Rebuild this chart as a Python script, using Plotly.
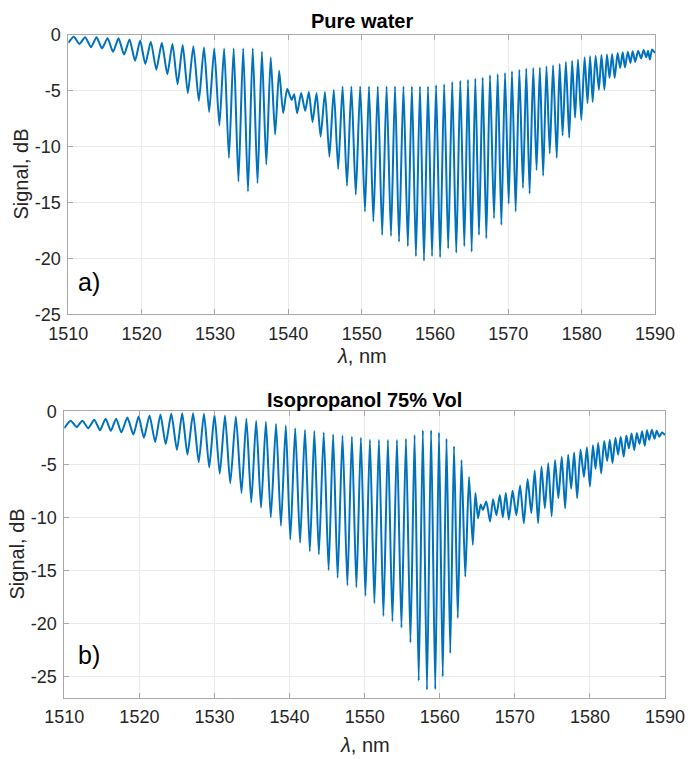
import plotly.graph_objects as go

# ---------------- Panel a) Pure water ----------------
a_peak_nm = [1510.0, 1510.75, 1512.3, 1513.85, 1515.35, 1516.85, 1518.35, 1519.8, 1521.25, 1522.75,
             1524.2, 1525.6, 1527.05, 1528.5, 1529.9, 1531.25, 1532.55, 1533.85, 1535.15, 1536.4,
             1537.6, 1538.75, 1539.85, 1540.8, 1541.75, 1542.8, 1543.85, 1545.0, 1546.2, 1547.4,
             1548.6, 1549.8, 1551.0, 1552.2, 1553.4, 1554.55, 1555.7, 1556.85, 1557.95, 1559.05,
             1560.15, 1561.25, 1562.35, 1563.45, 1564.5, 1565.5, 1566.5, 1567.5, 1568.55, 1569.55,
             1570.5, 1571.5, 1572.45, 1573.4, 1574.3, 1575.2, 1576.1, 1577.0, 1577.85, 1578.7,
             1579.5, 1580.4, 1581.15, 1581.9, 1582.7, 1583.45, 1584.15, 1584.9, 1585.6, 1586.3,
             1586.95, 1587.7, 1588.45, 1589.05, 1589.6, 1590.0]
a_peak_db = [-0.7, -0.15, -0.2, -0.2, -0.3, -0.3, -0.4, -0.5, -0.6, -0.7,
             -0.8, -0.9, -1.0, -1.1, -1.2, -1.2, -1.2, -1.2, -1.2, -1.5,
             -2.0, -3.2, -4.8, -5.3, -5.2, -5.1, -5.2, -5.1, -4.9, -4.6,
             -4.6, -4.6, -4.6, -4.6, -4.6, -4.6, -4.6, -4.6, -4.6, -4.6,
             -4.5, -4.4, -4.2, -4.1, -4.0, -3.9, -3.8, -3.6, -3.5, -3.4,
             -3.25, -3.1, -3.0, -2.95, -2.9, -2.8, -2.7, -2.6, -2.4, -2.3,
             -2.2, -2.0, -1.9, -1.85, -1.8, -1.75, -1.7, -1.6, -1.55, -1.5,
             -1.45, -1.4, -1.35, -1.4, -1.3, -1.6]
a_dip_nm = [1511.5, 1513.1, 1514.6, 1516.1, 1517.6, 1519.1, 1520.5, 1522.0, 1523.5, 1524.9,
            1526.3, 1527.8, 1529.2, 1530.6, 1531.9, 1533.2, 1534.5, 1535.8, 1537.0, 1538.2,
            1539.3, 1540.45, 1541.2, 1542.3, 1543.3, 1544.4, 1545.6, 1546.8, 1548.0, 1549.2,
            1550.45, 1551.6, 1552.8, 1554.0, 1555.1, 1556.3, 1557.4, 1558.5, 1559.6, 1560.7,
            1561.8, 1562.9, 1564.0, 1565.0, 1566.0, 1567.0, 1568.05, 1569.05, 1570.05, 1571.0,
            1572.0, 1572.9, 1573.85, 1574.75, 1575.65, 1576.6, 1577.4, 1578.3, 1579.1, 1579.95,
            1580.8, 1581.5, 1582.35, 1583.1, 1583.8, 1584.5, 1585.25, 1585.9, 1586.65, 1587.3,
            1588.1, 1588.8, 1589.3]
a_dip_db = [-0.8, -1.1, -1.2, -1.5, -1.75, -2.3, -2.6, -3.1, -3.5, -4.4,
            -5.2, -5.9, -6.9, -8.1, -11.0, -13.1, -14.0, -13.25, -11.6, -8.9,
            -7.0, -5.8, -7.0, -6.8, -7.8, -9.1, -10.9, -12.0, -13.5, -14.3,
            -15.8, -16.7, -17.9, -18.0, -18.5, -18.9, -19.8, -20.2, -19.8, -19.9,
            -19.1, -19.5, -18.9, -19.4, -17.9, -18.2, -16.4, -17.0, -15.1, -15.8,
            -13.7, -14.2, -12.1, -12.6, -10.6, -11.0, -9.0, -9.2, -7.4, -7.6,
            -6.1, -6.0, -4.9, -4.9, -3.85, -3.85, -2.95, -2.9, -2.5, -2.4,
            -2.1, -2.0, -2.2]

# ---------------- Panel b) Isopropanol 75% Vol ----------------
b_peak_nm = [1510.0, 1510.85, 1512.4, 1514.0, 1515.5, 1516.9, 1518.4, 1519.9, 1521.35, 1522.8,
             1524.25, 1525.7, 1527.15, 1528.6, 1530.0, 1531.4, 1532.85, 1534.25, 1535.55, 1536.85,
             1538.2, 1539.5, 1540.75, 1542.05, 1543.3, 1544.55, 1545.8, 1547.05, 1548.3, 1549.5,
             1550.7, 1551.9, 1553.1, 1554.3, 1555.5, 1556.65, 1557.75, 1558.85, 1559.9, 1560.9,
             1561.9, 1562.9, 1563.9, 1564.75, 1565.45, 1566.2, 1567.1, 1568.0, 1568.8, 1569.7,
             1570.7, 1571.7, 1572.65, 1573.55, 1574.45, 1575.35, 1576.25, 1577.1, 1577.9, 1578.75,
             1579.6, 1580.4, 1581.1, 1581.9, 1582.65, 1583.4, 1584.1, 1584.85, 1585.55, 1586.25,
             1586.95, 1587.6, 1588.25, 1588.9, 1589.6, 1590.0]
b_peak_db = [-1.6, -0.9, -0.9, -0.8, -0.7, -0.7, -0.6, -0.5, -0.4, -0.3,
             -0.25, -0.2, -0.2, -0.25, -0.3, -0.4, -0.5, -0.7, -0.9, -1.0,
             -1.2, -1.35, -1.6, -1.75, -1.85, -2.0, -2.2, -2.3, -2.4, -2.5,
             -2.7, -2.7, -2.7, -2.7, -2.6, -2.25, -1.8, -1.8, -2.0, -2.6,
             -3.3, -4.6, -6.2, -7.7, -8.8, -8.5, -8.3, -7.9, -7.7, -7.5,
             -7.0, -6.4, -5.6, -5.2, -4.9, -4.6, -4.3, -4.1, -3.9, -3.6,
             -3.4, -3.2, -3.0, -2.8, -2.7, -2.5, -2.4, -2.3, -2.1, -2.05,
             -1.9, -1.8, -1.75, -1.85, -2.0, -2.25]
b_dip_nm = [1511.65, 1513.2, 1514.75, 1516.2, 1517.6, 1519.2, 1520.6, 1522.1, 1523.5, 1525.0,
            1526.4, 1527.9, 1529.3, 1530.7, 1532.1, 1533.6, 1534.9, 1536.2, 1537.5, 1538.85,
            1540.1, 1541.4, 1542.7, 1543.9, 1545.2, 1546.4, 1547.7, 1548.9, 1550.1, 1551.3,
            1552.5, 1553.7, 1554.9, 1556.1, 1557.2, 1558.3, 1559.4, 1560.4, 1561.4, 1562.4,
            1563.4, 1564.4, 1565.1, 1565.75, 1566.7, 1567.55, 1568.4, 1569.2, 1570.2, 1571.2,
            1572.2, 1573.1, 1574.0, 1574.9, 1575.8, 1576.7, 1577.5, 1578.3, 1579.2, 1580.0,
            1580.75, 1581.5, 1582.3, 1583.0, 1583.75, 1584.5, 1585.2, 1585.9, 1586.6, 1587.3,
            1587.9, 1588.6, 1589.25]
b_dip_db = [-1.5, -1.6, -1.8, -1.85, -2.0, -2.2, -2.5, -2.9, -3.1, -3.65,
            -4.1, -4.8, -5.3, -5.9, -6.8, -7.7, -8.6, -9.1, -10.0, -10.8,
            -12.1, -12.4, -13.2, -13.5, -15.0, -15.7, -16.4, -16.6, -17.4, -18.1,
            -19.3, -19.8, -20.4, -21.8, -25.4, -26.25, -26.2, -25.0, -22.8, -19.5,
            -15.6, -12.6, -10.1, -9.3, -10.4, -9.8, -10.0, -10.2, -9.8, -10.55,
            -9.6, -10.55, -9.15, -9.9, -8.2, -9.15, -7.3, -8.2, -6.2, -7.1,
            -5.45, -5.85, -4.7, -4.9, -4.1, -4.3, -3.5, -3.65, -3.1, -3.25,
            -2.7, -2.6, -2.4]

x_ticks = [1510, 1520, 1530, 1540, 1550, 1560, 1570, 1580, 1590]
y_ticks = [-25, -20, -15, -10, -5, 0]
y_tick_text = ["-25", "-20", "-15", "-10", "-5", "0"]
titles = ["Pure water", "Isopropanol 75% Vol"]
panel_tags = ["a)", "b)"]


def merge(pk_x, pk_y, dp_x, dp_y):
    pts = sorted(zip(pk_x + dp_x, pk_y + dp_y))
    return [p[0] for p in pts], [p[1] for p in pts]


W, H = 691, 759
FONT = "Liberation Sans, Arial, sans-serif"
BLUE = "#0072BD"
AXC = "#A8A8A8"
TXT = "#262626"


def px(x):
    return x / W


def py(y):
    return 1 - y / H


fig = go.Figure()
ax, ay = merge(a_peak_nm, a_peak_db, a_dip_nm, a_dip_db)
bx, by = merge(b_peak_nm, b_peak_db, b_dip_nm, b_dip_db)
line_style = dict(color=BLUE, width=2.0, shape="spline", smoothing=0.6)
fig.add_trace(go.Scatter(x=ax, y=ay, mode="lines", line=line_style,
                         xaxis="x", yaxis="y", showlegend=False, hoverinfo="skip"))
fig.add_trace(go.Scatter(x=bx, y=by, mode="lines", line=line_style,
                         xaxis="x2", yaxis="y2", showlegend=False, hoverinfo="skip"))

common_x = dict(range=[1510, 1590], tickvals=x_ticks, showgrid=True, gridcolor="#EBEBEB",
                gridwidth=1, showline=True, mirror="ticks", linecolor=AXC, linewidth=1,
                ticks="inside", ticklen=5, tickcolor=AXC, zeroline=False, automargin=False,
                tickfont=dict(family=FONT, size=18, color=TXT), ticklabelstandoff=3)
common_y = dict(showgrid=True, gridcolor="#EBEBEB", gridwidth=1, showline=True,
                mirror="ticks", linecolor=AXC, linewidth=1, ticks="inside", ticklen=5,
                tickcolor=AXC, zeroline=False, automargin=False,
                tickvals=y_ticks, ticktext=y_tick_text,
                tickfont=dict(family=FONT, size=18, color=TXT), ticklabelstandoff=3)

fig.update_layout(
    template="none",
    width=W, height=H, margin=dict(l=0, r=0, t=0, b=0, pad=0), autosize=False,
    paper_bgcolor="white", plot_bgcolor="white",
    xaxis=dict(domain=[px(68.3), px(655)], anchor="y", **common_x),
    yaxis=dict(domain=[py(314.3), py(35)], anchor="x", range=[-25, 0], **common_y),
    xaxis2=dict(domain=[px(64.3), px(665)], anchor="y2", **common_x),
    yaxis2=dict(domain=[py(697.7), py(411.2)], anchor="x2", range=[-27, 0], **common_y),
)

ann = []
# panel titles
ann.append(dict(text="<b>" + titles[0] + "</b>", x=px(361.7), y=py(21), xref="paper", yref="paper",
                showarrow=False, xanchor="center", yanchor="middle",
                font=dict(family=FONT, size=20, color="black")))
ann.append(dict(text="<b>" + titles[1] + "</b>", x=px(364.7), y=py(400), xref="paper", yref="paper",
                showarrow=False, xanchor="center", yanchor="middle",
                font=dict(family=FONT, size=20, color="black")))
# y labels
for xc, yc in [(21, 174.6), (16, 554.5)]:
    ann.append(dict(text="Signal, dB", x=px(xc), y=py(yc), xref="paper", yref="paper",
                    showarrow=False, textangle=-90, xanchor="center", yanchor="middle",
                    font=dict(family=FONT, size=20, color=TXT)))
# x labels
for xc, yc in [(361.7, 356), (364.7, 745)]:
    ann.append(dict(text="<i>λ</i>, nm", x=px(xc), y=py(yc), xref="paper", yref="paper",
                    showarrow=False, xanchor="center", yanchor="middle",
                    font=dict(family=FONT, size=20, color=TXT)))
# panel tags
for tag, (xl, yc) in zip(panel_tags, [(76, 282), (76, 655)]):
    ann.append(dict(text=tag, x=px(xl), y=py(yc), xref="paper", yref="paper",
                    showarrow=False, xanchor="left", yanchor="middle",
                    font=dict(family=FONT, size=25, color="black")))
fig.update_layout(annotations=ann)

fig.write_html("out.html", config={"displayModeBar": False},
               post_script="document.body.style.margin='0px';document.body.style.overflow='hidden';")
